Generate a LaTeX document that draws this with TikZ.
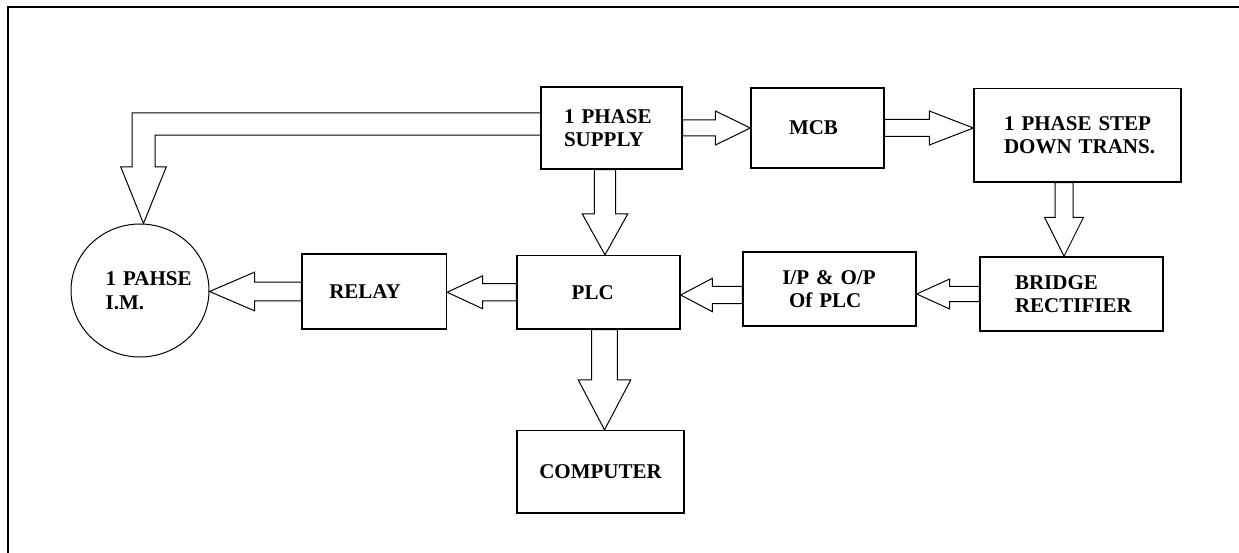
\documentclass[tikz,border=0pt]{standalone}
\usepackage{fontspec}
\setmainfont{Liberation Serif}
\usetikzlibrary{calc,shapes.geometric}
\tikzset{
  box/.style={draw, line width=1.3pt, rectangle, inner sep=0pt,
    font=\bfseries\fontsize{21}{23.5}\selectfont, align=left},
  blk/.style={draw, line width=1pt, line join=miter},
  frameline/.style={line width=2.4pt}
}
% block arrow: #1 from, #2 tip, #3 angle, #4 shaft half width, #5 head half width, #6 head length
\newcommand\blockarr[6]{%
  \draw[blk] let \p1=#1, \p2=#2, \n1={veclen(\x2-\x1,\y2-\y1)} in
    {[shift={(\p1)}, rotate=#3] (0pt,#4) -- ({\n1-#6},#4) -- ({\n1-#6},#5) -- ({\n1+0pt},0pt)
      -- ({\n1-#6},-#5) -- ({\n1-#6},-#4) -- (0pt,-#4) -- cycle};}
\begin{document}
\begin{tikzpicture}[x=1pt,y=-1pt]
\useasboundingbox (0,0) rectangle (1239,553);
\draw[frameline] (8,553) -- (8,7) -- (1239,7);

\node[box, minimum width=141pt, minimum height=82pt, text width=95pt] (supply) at (611.5,128) {1 PHASE\\SUPPLY};
\node[box, minimum width=133pt, minimum height=80pt, text width=57pt] (mcb) at (817.5,128) {MCB};
\node[box, minimum width=207pt, minimum height=93.5pt, text width=147pt] (step) at (1077.5,135.25) {\mbox{1 PHASE STEP}\\\mbox{DOWN TRANS.}};
\node[box, minimum width=183pt, minimum height=74pt, text width=113pt] (bridge) at (1071.5,294) {BRIDGE\\\mbox{RECTIFIER}};
\node[box, minimum width=173pt, minimum height=74pt, text width=94.4pt] (io) at (829.5,289) {\mbox{I/P \& O/P}\\\hspace*{6.7pt}Of PLC};
\node[box, minimum width=163pt, minimum height=73.5pt, text width=53.6pt] (plc) at (598.5,292.25) {PLC};
\node[box, minimum width=144.5pt, minimum height=75pt, text width=90pt] (relay) at (374.25,291.5) {RELAY};
\node[box, minimum width=167pt, minimum height=82.5pt, text width=122.4pt] (computer) at (600.5,471.75) {\mbox{COMPUTER}};
\node[box, ellipse, line width=1pt, minimum width=138pt, minimum height=133pt, text width=68.6pt] (motor) at (140,290.5) {\mbox{1 PAHSE}\\I.M.};

\coordinate (a3) at ($(step.south)+(-13.5,0)$);
\coordinate (a5) at ($(io.west)+(0,6)$);
\coordinate (a8) at ($(supply.south)+(-6.5,0)$);
\coordinate (a9) at ($(plc.south)+(6,0)$);
\coordinate (e0) at ($(supply.west)+(0,-4)$);
\coordinate (e1) at ($(motor.north)+(3.5,0)$);

\blockarr{(supply.east)}{(mcb.west)}{0}{8pt}{17pt}{35pt}
\blockarr{(mcb.east)}{(mcb.east -| step.west)}{0}{8.5pt}{17pt}{44pt}
\blockarr{(a3)}{(a3 |- bridge.north)}{-90}{9pt}{19.5pt}{39pt}
\blockarr{(bridge.west)}{(bridge.west -| io.east)}{180}{7.5pt}{15pt}{33pt}
\blockarr{(a5)}{(a5 -| plc.east)}{180}{8.7pt}{16.7pt}{31.7pt}
\blockarr{(plc.west)}{(plc.west -| relay.east)}{180}{8.5pt}{16.5pt}{35.5pt}
\blockarr{(relay.west)}{(relay.west -| motor.east)}{180}{9.3pt}{19.3pt}{45pt}
\blockarr{(a8)}{(a8 |- plc.north)}{-90}{10.7pt}{22.8pt}{41pt}
\blockarr{(a9)}{(a9 |- computer.north)}{-90}{12.8pt}{26.3pt}{50pt}

\draw[blk] let \p1=(e0), \p2=(e1) in
  (\x1,\y1+11.2pt) -- (\x2-11.5pt,\y1+11.2pt) -- (\x2-11.5pt,\y2+56.7pt) -- (\x2-22.8pt,\y2+56.7pt)
  -- (\p2) -- (\x2+22.8pt,\y2+56.7pt) -- (\x2+11.5pt,\y2+56.7pt) -- (\x2+11.5pt,\y1-11.2pt) -- (\x1,\y1-11.2pt);
\end{tikzpicture}
\end{document}
